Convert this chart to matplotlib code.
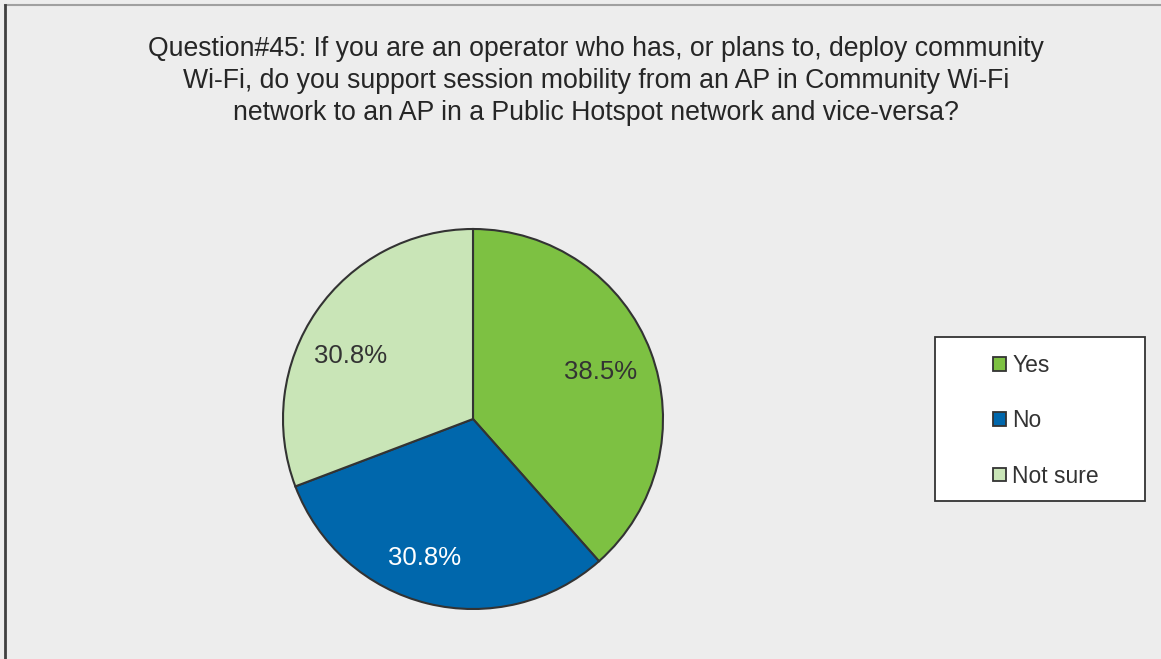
import matplotlib.pyplot as plt
from matplotlib.lines import Line2D
from matplotlib.patches import Patch, Rectangle

# data
labels = ['Yes', 'No', 'Not sure']
counts = [5, 4, 4]
colors = ['#7DC142', '#0067AC', '#C9E5B7']
pct_colors = ['#333333', 'white', '#333333']
title = ('Question#45: If you are an operator who has, or plans to, deploy community\n'
         'Wi-Fi, do you support session mobility from an AP in Community Wi-Fi\n'
         'network to an AP in a Public Hotspot network and vice-versa?')

plt.rcParams['font.family'] = ['Liberation Sans', 'DejaVu Sans']

W, H = 1161, 659
fig = plt.figure(figsize=(W / 100, H / 100), dpi=100)
fig.patch.set_facecolor('#EDEDED')

# frame lines
fig.add_artist(Line2D([5 / W, 1], [1 - 5 / H, 1 - 5 / H], color='#A0A0A0', lw=1.5))
fig.add_artist(Line2D([5 / W, 5 / W], [0, 1 - 5 / H], color='#404040', lw=2))

fig.text(596 / W, 1 - 81 / H, title, ha='center', va='center', fontsize=19.2,
         color='#262626', linespacing=1.32)

cx, cy, r = 473, 419, 190
ax = fig.add_axes([(cx - r) / W, (H - cy - r) / H, 2 * r / W, 2 * r / H])
ax.set_facecolor('none')
wedges, texts, autotexts = ax.pie(counts, colors=colors, startangle=90, counterclock=False,
                                  autopct='%1.1f%%', pctdistance=0.72, radius=1,
                                  wedgeprops=dict(edgecolor='#333333', linewidth=1.5))
# small nudges of the percentage labels (Excel-like placement)
nudges = [(0.0, -0.01), (-0.085, -0.03), (-0.05, -0.075)]
for t, c, (dx, dy) in zip(autotexts, pct_colors, nudges):
    t.set_color(c)
    t.set_fontsize(18.5)
    x, y = t.get_position()
    t.set_position((x + dx, y + dy))
ax.set_xlim(-1, 1)
ax.set_ylim(-1, 1)
ax.set_aspect('equal')

# legend box
fig.add_artist(Rectangle((935 / W, 1 - 501 / H), 210 / W, 164 / H,
                         transform=fig.transFigure, facecolor='white',
                         edgecolor='#333333', linewidth=1.3, zorder=1))
handles = [Patch(facecolor=c, edgecolor='#333333', linewidth=1.3) for c in colors]
leg = fig.legend(handles, labels, loc='center left',
                 bbox_to_anchor=(993 / W, 1 - 421 / H), fontsize=16.5,
                 frameon=False, labelspacing=1.4, handlelength=0.55,
                 handleheight=0.55, handletextpad=0.3, borderpad=0, borderaxespad=0)
for t in leg.get_texts():
    t.set_color('#333333')

fig.savefig('out.png', dpi=100, facecolor=fig.get_facecolor())
